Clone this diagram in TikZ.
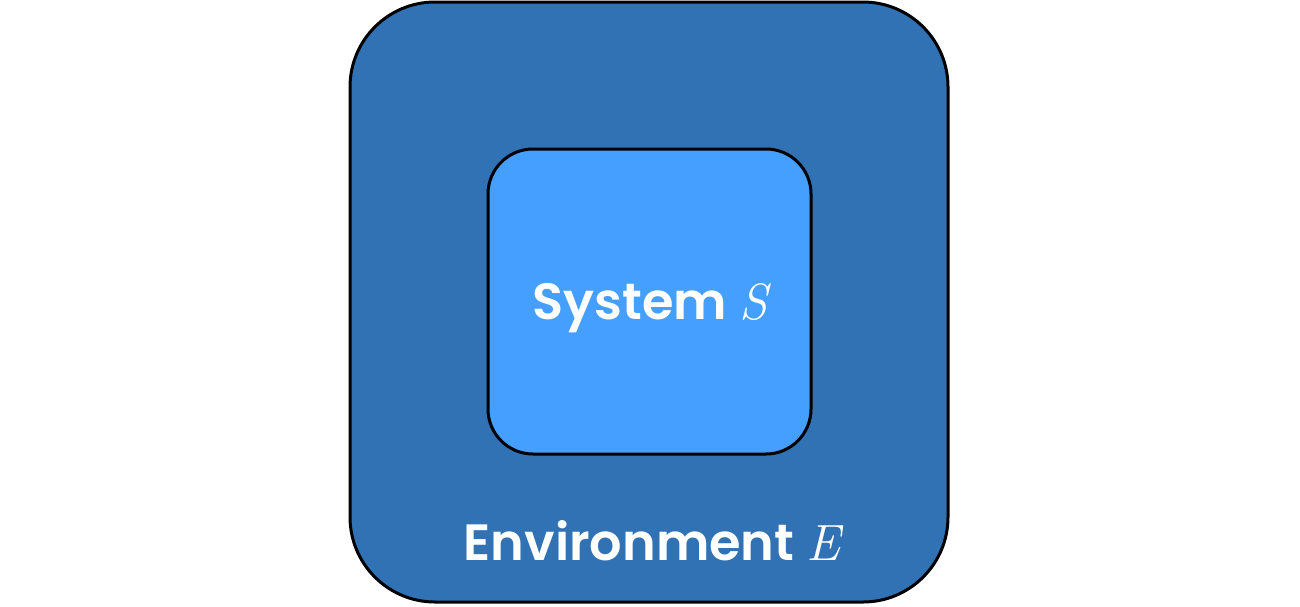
\documentclass[tikz,border=0pt]{standalone}
\usepackage{fontspec}
\setmainfont{Poppins}[BoldFont={Poppins SemiBold}]
\newfontfamily\lmfam{Latin Modern Roman}
\newcommand{\varlet}[1]{{\lmfam\mdseries\itshape #1}}
\begin{document}
\begin{tikzpicture}[x=1pt,y=-1pt,
  box/.style={draw=black,line width=3pt},
  lbl/.style={text=white,font=\fontsize{51}{56}\selectfont\bfseries,inner sep=0pt,anchor=base}]
\definecolor{envblue}{HTML}{3172B5}
\definecolor{sysblue}{HTML}{459FFF}
\useasboundingbox (0,0) rectangle (1300,606);
% environment box
\draw[box,fill=envblue,rounded corners=85pt] (350,2) rectangle (948,602);
% system box
\draw[box,fill=sysblue,rounded corners=45pt] (488,149) rectangle (811,454);
\node[lbl] (sys) at (650,319) {System \varlet{S}};
\node[lbl] (env) at (652,560) {Environment \varlet{E}};
\end{tikzpicture}
\end{document}
